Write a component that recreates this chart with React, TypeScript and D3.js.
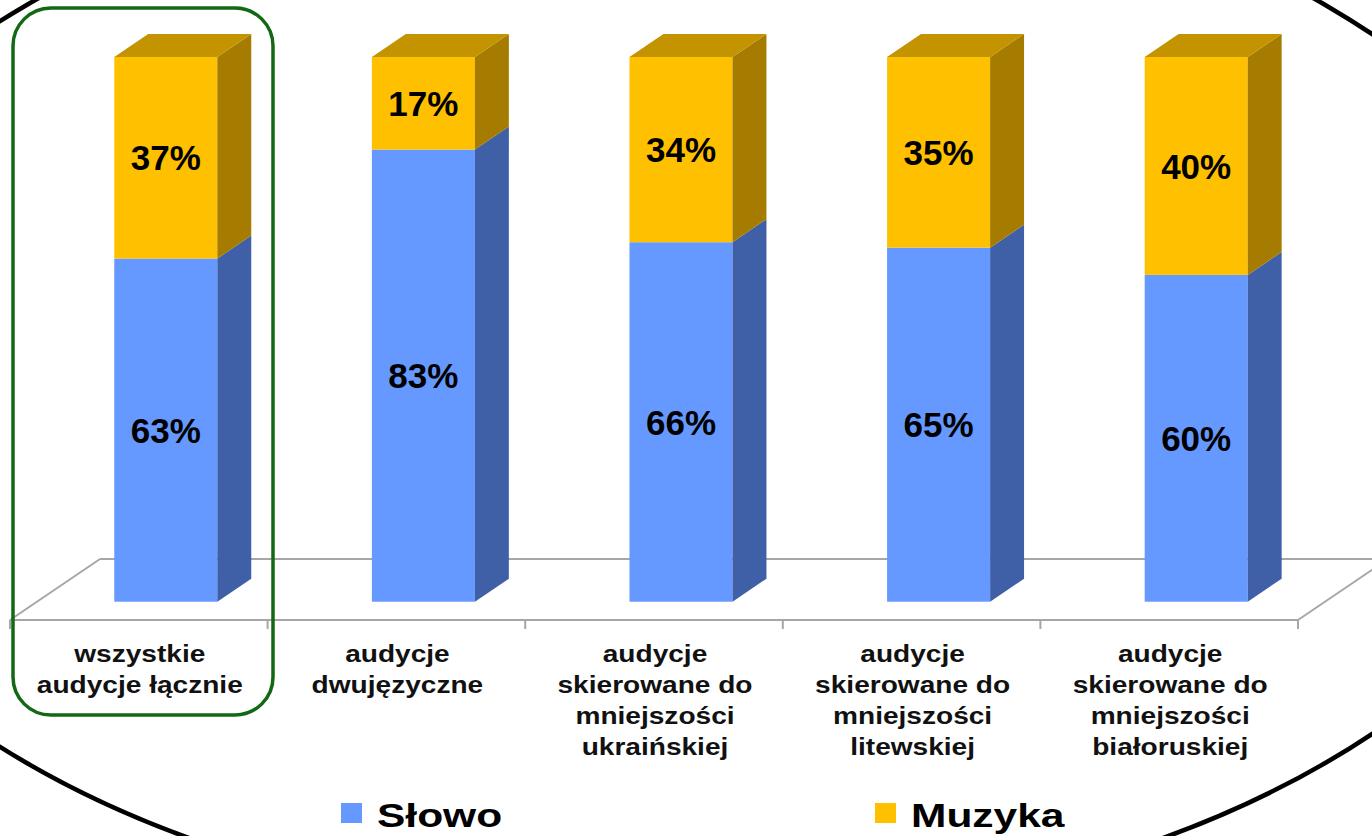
import React from "react";
import * as d3 from "d3";

const categories: string[][] = [
  ["wszystkie", "audycje łącznie"],
  ["audycje", "dwujęzyczne"],
  ["audycje", "skierowane do", "mniejszości", "ukraińskiej"],
  ["audycje", "skierowane do", "mniejszości", "litewskiej"],
  ["audycje", "skierowane do", "mniejszości", "białoruskiej"],
];
const slowo: number[] = [63, 83, 66, 65, 60];
const muzyka: number[] = [37, 17, 34, 35, 40];
const seriesNames: string[] = ["Słowo", "Muzyka"];

const W = 1372;
const H = 836;
const FONT = "'Liberation Sans', Arial, sans-serif";

const COLORS = [
  { front: "#6699FF", side: "#3F60A6", top: "#5A86E0" },
  { front: "#FFC000", side: "#A67C00", top: "#C49400" },
];

export default function App() {
  const floorFrontY = 620;
  const floorDX = 90;
  const floorDY = -61;
  const frontFrac = 0.3;
  const depthFrac = 0.377;
  const x = d3
    .scaleBand<number>()
    .domain(d3.range(categories.length))
    .range([10, 1298])
    .padding(0);
  const bw = x.bandwidth();
  const barW = bw * 0.4;
  const offX = floorDX * frontFrac;
  const offY = floorDY * frontFrac;
  const dX = floorDX * depthFrac;
  const dY = floorDY * depthFrac;
  const y = d3.scaleLinear().domain([0, 100]).range([floorFrontY + offY, 57]);

  const stacks = categories.map((_, i) => [
    { v0: 0, v1: slowo[i], v: slowo[i], s: 0 },
    { v0: slowo[i], v1: slowo[i] + muzyka[i], v: muzyka[i], s: 1 },
  ]);

  const fl = 10;
  const fr = 1298;
  const grid = "#A6A6A6";

  return (
    <svg
      width={W}
      height={H}
      style={{ position: "absolute", left: 0, top: 0, background: "#fff" }}
    >
      {/* floor */}
      <g stroke={grid} strokeWidth={2} fill="none">
        <line x1={fl + floorDX} y1={floorFrontY + floorDY} x2={fr + floorDX} y2={floorFrontY + floorDY} />
        <line x1={fl} y1={floorFrontY} x2={fl + floorDX} y2={floorFrontY + floorDY} />
        <line x1={fr} y1={floorFrontY} x2={fr + floorDX} y2={floorFrontY + floorDY} />
        <line x1={fl} y1={floorFrontY} x2={fr} y2={floorFrontY} />
        {d3.range(categories.length + 1).map((i) => {
          const tx = i < categories.length ? (x(i) as number) : fr;
          return <line key={i} x1={tx} y1={floorFrontY} x2={tx} y2={floorFrontY + 9} />;
        })}
      </g>
      {/* bars */}
      {stacks.map((segs, i) => {
        const x0 = (x(i) as number) + bw / 2 - barW / 2 + offX;
        const x1 = x0 + barW;
        return (
          <g key={i}>
            {segs.map((sg) => {
              const yb = y(sg.v0);
              const yt = y(sg.v1);
              const c = COLORS[sg.s];
              return (
                <g key={sg.s}>
                  <rect x={x0} y={yt} width={barW} height={yb - yt} fill={c.front} />
                  <path
                    d={`M${x1},${yb}L${x1 + dX},${yb + dY}L${x1 + dX},${yt + dY}L${x1},${yt}Z`}
                    fill={c.side}
                  />
                </g>
              );
            })}
            {(() => {
              const yt = y(100);
              const c = COLORS[1];
              return (
                <path
                  d={`M${x0},${yt}L${x1},${yt}L${x1 + dX},${yt + dY}L${x0 + dX},${yt + dY}Z`}
                  fill={c.top}
                />
              );
            })()}
            {segs.map((sg) => (
              <text
                key={"t" + sg.s}
                x={(x0 + x1) / 2}
                y={(y(sg.v0) + y(sg.v1)) / 2}
                dy="0.36em"
                textAnchor="middle"
                fontFamily={FONT}
                fontWeight="bold"
                fontSize={35}
                fill="#000"
              >
                {sg.v}%
              </text>
            ))}
          </g>
        );
      })}
      {/* category labels */}
      {categories.map((lines, i) => {
        const cx = (x(i) as number) + bw / 2 + 1;
        return (
          <g key={"c" + i}>
            {lines.map((ln, j) => (
              <g key={j} transform={`translate(${cx},${662 + j * 31}) scale(1.17,1)`}>
                <text
                  x={0}
                  y={0}
                  textAnchor="middle"
                  fontFamily={FONT}
                  fontWeight="bold"
                  fontSize={24}
                  fill="#111"
                >
                  {ln}
                </text>
              </g>
            ))}
          </g>
        );
      })}
      {/* legend */}
      {seriesNames.map((n, i) => {
        const lx = [341, 875][i];
        return (
          <g key={"l" + i}>
            <rect x={lx} y={803} width={21} height={20} fill={COLORS[i].front} />
            <g transform={`translate(${lx + 36},827) scale(1.25,1)`}>
              <text x={0} y={0} fontFamily={FONT} fontWeight="bold" fontSize={34} fill="#000">
                {n}
              </text>
            </g>
          </g>
        );
      })}
      {/* highlight */}
      <rect x={13} y={8} width={260} height={707} rx={38} ry={38} fill="none" stroke="#136813" strokeWidth={3.5} />
      {/* ellipse frame */}
      <ellipse cx={676} cy={384} rx={920} ry={535} fill="none" stroke="#000" strokeWidth={4.5} />
    </svg>
  );
}
